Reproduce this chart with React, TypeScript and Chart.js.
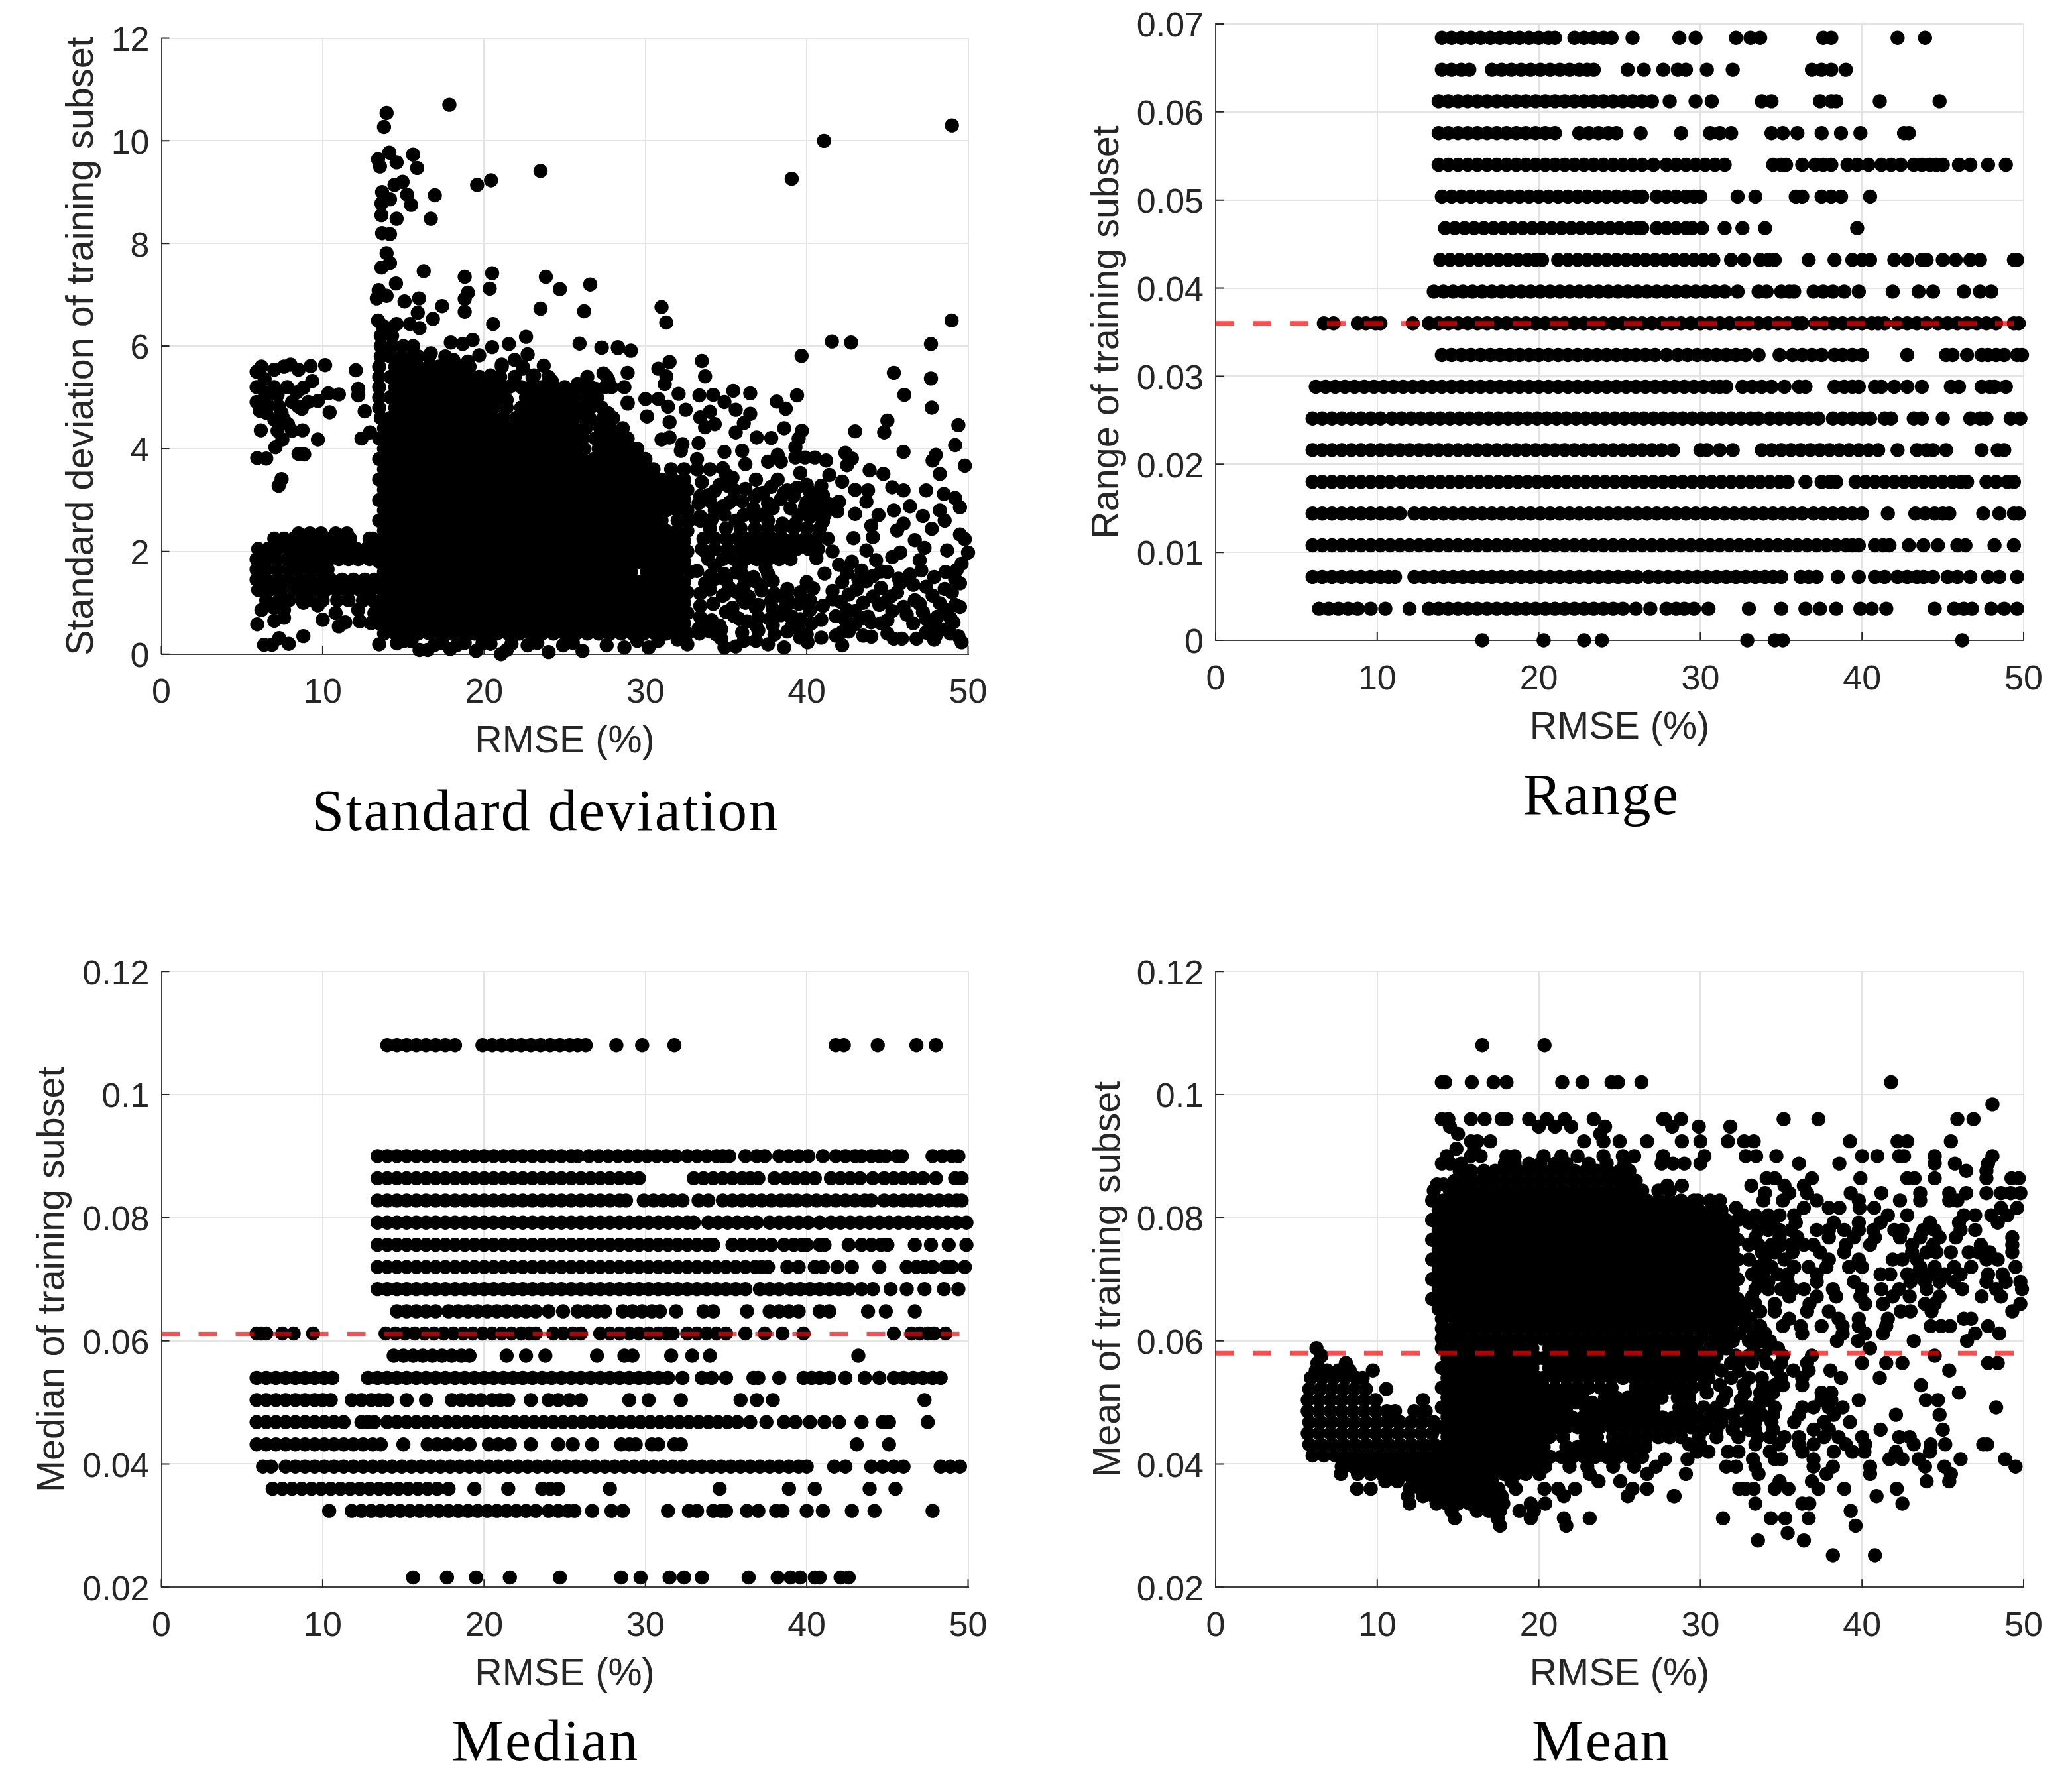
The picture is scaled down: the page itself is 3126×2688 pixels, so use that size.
import React, { useEffect, useRef } from "react";
import { Chart, registerables } from "chart.js";

Chart.register(...registerables);

type Row = [number, number[]];

const rmseTicks = [0, 10, 20, 30, 40, 50];
const stdTicks = [0, 2, 4, 6, 8, 10, 12];
const rangeTicks = [0, 0.01, 0.02, 0.03, 0.04, 0.05, 0.06, 0.07];
const centerTicks = [0.02, 0.04, 0.06, 0.08, 0.1, 0.12];

// ---------- Range panel: each row is one discrete level with the RMSE values read along it
const rangeRows: Row[] = [
  [0, [16.5, 20.3, 22.8, 23.9, 32.9, 34.6, 35.1, 46.2]],
  [0.0036, [6.4, 7, 7.6, 8.2, 8.8, 9.6, 10.5, 12, 13.2, 13.8, 14.4, 15, 15.6, 16.2, 16.8, 17.4, 18, 18.6, 19.2, 19.8, 20.4, 21, 21.6, 22.2, 22.8, 23.4, 24, 24.6, 25.2, 26, 26.9, 27.9, 28.5, 29, 29.6, 30.5, 33, 35, 36.5, 37.4, 38.4, 39.9, 40.6, 41.5, 44.5, 45.7, 46.3, 46.8, 48, 48.8, 49.6]],
  [0.0072, [6, 6.6, 7.2, 7.8, 8.4, 9, 9.6, 10.2, 10.7, 11.1, 12.3, 12.9, 13.5, 14.1, 14.7, 15.3, 15.9, 16.5, 17.1, 17.7, 18.3, 18.9, 19.5, 20.1, 20.7, 21.3, 21.9, 22.5, 23.1, 23.7, 24.3, 24.9, 25.5, 26.1, 26.8, 27.4, 28, 28.6, 29.2, 29.8, 30.4, 31, 31.6, 32.2, 32.8, 33.4, 34, 34.5, 35, 36.2, 36.7, 37.2, 38.5, 39.8, 40.8, 41.4, 42.2, 42.8, 43.4, 43.8, 44.4, 45.3, 45.9, 46.7, 47.8, 48.5, 49.6]],
  [0.0108, [6, 6.6, 7.2, 7.8, 8.4, 9, 9.6, 10.2, 10.8, 11.4, 12, 12.6, 13.2, 13.8, 14.4, 15, 15.6, 16.2, 16.8, 17.4, 18, 18.6, 19.2, 19.8, 20.4, 21, 21.6, 22.2, 22.8, 23.4, 24, 24.6, 25.2, 25.8, 26.4, 27, 27.6, 28.2, 28.8, 29.4, 30, 30.6, 31.2, 31.8, 32.4, 33, 33.6, 34.2, 34.8, 35.4, 36, 36.6, 37.2, 37.8, 38.4, 39, 39.4, 39.8, 40.8, 41.3, 41.7, 42.9, 43.8, 44.7, 45.9, 46.4, 48.2, 49.4]],
  [0.0144, [6, 6.6, 7.2, 7.8, 8.4, 9, 9.6, 10.2, 10.8, 11.4, 12.3, 12.9, 13.5, 14.1, 14.7, 15.3, 15.9, 16.5, 17.1, 17.7, 18.3, 18.9, 19.5, 20.1, 20.7, 21.3, 21.9, 22.5, 23.1, 23.7, 24.3, 24.9, 25.5, 26.1, 26.7, 27.3, 27.9, 28.5, 29.1, 29.7, 30.3, 30.9, 31.5, 32.1, 32.7, 33.3, 33.9, 34.5, 35.1, 35.7, 36.3, 37, 37.6, 38.2, 38.8, 39.4, 40, 41.6, 43.3, 43.9, 44.5, 45, 45.4, 47.5, 48.5, 49.4, 49.7]],
  [0.018, [6, 6.6, 7.2, 7.8, 8.4, 9, 9.6, 10.2, 10.8, 11.5, 12.1, 12.7, 13.3, 13.9, 14.5, 15.1, 15.7, 16.3, 16.9, 17.5, 18.1, 18.7, 19.3, 19.9, 20.5, 21.1, 21.7, 22.3, 22.9, 23.5, 24.1, 24.7, 25.3, 25.9, 26.5, 27.1, 27.7, 28.3, 28.9, 29.5, 30.1, 30.7, 31.3, 31.9, 32.5, 33.1, 33.7, 34.3, 34.9, 35.4, 36.5, 37.5, 38, 38.4, 39.6, 40.2, 40.8, 41.4, 42, 42.6, 43.2, 43.8, 44.4, 45, 45.6, 46.1, 46.5, 47.7, 48.3, 49, 49.4]],
  [0.0216, [6, 6.6, 7.2, 7.8, 8.4, 9, 9.6, 10.2, 10.8, 11.4, 12, 12.6, 13.2, 13.8, 14.4, 15, 15.6, 16.2, 16.8, 17.4, 18, 18.6, 19.2, 19.8, 20.4, 21, 21.6, 22.2, 22.8, 23.4, 24, 24.6, 25.2, 25.8, 26.4, 27, 27.6, 28.3, 30, 30.4, 31.2, 32, 33.8, 34.4, 35, 35.6, 36.2, 36.8, 37.4, 38, 38.6, 39.2, 39.8, 40.4, 41, 42.2, 43.4, 44, 44.4, 45.2, 47.4, 48.4, 48.8]],
  [0.0252, [6, 6.6, 7.2, 7.8, 8.4, 9, 9.6, 10.2, 10.9, 11.5, 12.1, 12.7, 13.3, 13.9, 14.5, 15.1, 15.7, 16.3, 16.9, 17.5, 18.1, 18.7, 19.3, 19.9, 20.5, 21.1, 21.7, 22.3, 22.9, 23.5, 24.1, 24.7, 25.3, 25.9, 26.5, 27.1, 27.7, 28.3, 28.9, 29.5, 30.1, 30.7, 31.3, 31.9, 32.5, 33.1, 33.6, 34.3, 34.9, 35.5, 36.1, 36.7, 37.3, 38.2, 38.8, 39.4, 40, 40.5, 41.4, 41.8, 43.2, 43.7, 45, 46.7, 47.3, 47.7, 49.2, 49.8]],
  [0.0288, [6.2, 6.8, 7.4, 8, 8.6, 9.2, 9.8, 10.4, 11, 11.6, 12.2, 12.8, 13.4, 14, 14.6, 15.2, 15.8, 16.4, 17, 17.6, 18.2, 18.8, 19.4, 20, 20.6, 21.2, 21.8, 22.4, 23, 23.6, 24.2, 24.8, 25.4, 26, 26.6, 27.2, 27.8, 28.4, 29, 29.6, 30.2, 30.8, 31.2, 31.6, 32.6, 33.2, 33.8, 34.4, 35.2, 36.1, 36.5, 38.3, 38.9, 39.4, 39.8, 40.8, 41.2, 42, 42.8, 43.7, 45.5, 46, 47.4, 47.9, 48.2, 48.9]],
  [0.0324, [14, 14.6, 15.2, 15.8, 16.4, 17, 17.6, 18.2, 18.8, 19.4, 20, 20.6, 21.2, 21.8, 22.4, 23, 23.6, 24.2, 24.8, 25.4, 26, 26.6, 27.2, 27.9, 28.6, 29.2, 29.8, 30.4, 31, 31.6, 32.2, 32.8, 33.6, 34.9, 35.7, 36.3, 36.9, 37.5, 38.3, 38.8, 39.4, 40, 42.8, 45.2, 45.6, 46.5, 47.4, 47.8, 48.3, 48.8, 49.6, 49.9]],
  [0.036, [6.7, 7.3, 8.8, 9.3, 9.9, 10.2, 12.2, 13.2, 13.8, 14.4, 15, 15.6, 16.2, 16.8, 17.4, 18, 18.6, 19.2, 19.8, 20.4, 21, 21.6, 22.2, 22.8, 23.4, 24, 24.6, 25.2, 25.8, 26.4, 27, 27.6, 28.2, 28.8, 29.4, 30, 30.6, 31.2, 31.8, 32.4, 33, 33.6, 34.2, 34.8, 35.4, 36, 36.3, 37.1, 37.7, 38.2, 38.8, 39.4, 40, 40.6, 41, 41.4, 42.2, 42.8, 43.4, 44, 44.7, 45.3, 45.9, 46.5, 47.1, 47.7, 48.3, 49.4, 49.7]],
  [0.0396, [13.5, 14.1, 14.7, 15.3, 15.9, 16.5, 17.1, 17.7, 18.3, 18.9, 19.5, 20.1, 20.7, 21.3, 21.9, 22.5, 23.1, 23.7, 24.3, 24.9, 25.5, 26.1, 26.7, 27.3, 27.9, 28.5, 29.1, 29.7, 30.3, 30.9, 31.5, 32.3, 33.6, 34.1, 35, 35.5, 35.8, 37, 37.6, 38.2, 38.9, 39.8, 41.9, 43.5, 44.4, 46.3, 47.3, 48]],
  [0.0432, [13.9, 14.5, 15.1, 15.7, 16.3, 16.9, 17.5, 18.1, 18.7, 19.3, 19.8, 20.2, 21.2, 21.8, 22.4, 23, 23.6, 24.2, 24.8, 25.4, 26, 26.6, 27.2, 27.8, 28.4, 29, 29.6, 30.2, 30.8, 31.9, 32.7, 33.7, 34.2, 34.6, 36.7, 38.3, 39.4, 40, 40.5, 42, 42.8, 43.7, 44, 45, 45.8, 46.7, 47.3, 49.4, 49.6]],
  [0.0468, [14.2, 14.8, 15.4, 16, 16.6, 17.2, 17.8, 18.4, 19, 19.6, 20.2, 20.8, 21.4, 22, 22.6, 23.2, 23.8, 24.4, 25, 25.6, 26.1, 26.4, 27.3, 27.9, 28.5, 29.1, 29.5, 30.1, 31.5, 32.6, 34, 39.7]],
  [0.0504, [14, 14.6, 15.2, 15.8, 16.4, 17, 17.6, 18.2, 18.8, 19.4, 20, 20.6, 21.2, 21.8, 22.4, 23, 23.6, 24.2, 24.8, 25.4, 26, 26.4, 27.3, 27.9, 28.5, 29.1, 29.6, 30, 32.3, 33.4, 35.9, 36.3, 37.5, 38.1, 38.7, 40.5]],
  [0.054, [13.8, 14.4, 15, 15.6, 16.2, 16.8, 17.4, 18, 18.6, 19.2, 19.8, 20.4, 21, 21.6, 22.2, 22.8, 23.4, 24, 24.6, 25.2, 25.8, 26.4, 27.1, 27.9, 28.5, 29.1, 29.7, 30.3, 30.9, 31.5, 34.5, 35, 35.3, 36.3, 37.1, 37.6, 38.1, 39.1, 39.7, 40.4, 41.2, 41.8, 42.4, 43.2, 43.7, 44.2, 44.6, 45, 46, 46.7, 47.8, 48.9]],
  [0.0576, [13.8, 14.4, 15, 15.6, 16.2, 16.8, 17.4, 18, 18.6, 19.2, 19.8, 20.4, 21, 22.5, 23.1, 23.7, 24.3, 24.8, 26.3, 28.8, 30.6, 31.2, 31.9, 34.4, 35.1, 36, 37.5, 38.7, 39.9, 42.6, 42.9]],
  [0.0612, [13.8, 14.4, 15, 15.6, 16.2, 16.8, 17.4, 18, 18.6, 19.2, 19.8, 20.4, 21, 21.6, 22.2, 22.8, 23.4, 24, 24.6, 25.2, 25.8, 26.4, 27, 28.1, 29.7, 30.7, 33.8, 34.4, 37.4, 38.1, 38.4, 41.1, 44.8]],
  [0.0648, [14, 14.6, 15.2, 15.7, 17.1, 17.7, 18.3, 18.9, 19.5, 20.1, 20.7, 21.3, 21.9, 22.5, 23, 23.4, 25.5, 26.5, 27.7, 28.6, 29.1, 30.4, 32, 36.9, 37.5, 38.1, 39]],
  [0.0684, [14, 14.6, 15.2, 15.8, 16.4, 17, 17.6, 18.2, 18.8, 19.4, 20, 20.6, 21, 22.2, 22.8, 23.4, 24, 24.5, 25.8, 28.7, 29.7, 32.2, 33.1, 33.7, 37.6, 38.1, 42.2, 43.9]],
];

// ---------- Median panel
const medianRows: Row[] = [
  [0.0216, [15.6, 17.7, 19.5, 21.6, 24.7, 28.5, 29.7, 31.5, 32.4, 33.5, 36.4, 38.2, 39, 39.6, 40.5, 40.8, 42.1, 42.6]],
  [0.0324, [10.4, 11.8, 12.4, 13, 13.6, 14.2, 14.8, 15.4, 16, 16.6, 17.2, 17.8, 18.4, 19, 19.6, 20.2, 20.8, 21.4, 22, 22.6, 23.2, 24, 24.6, 25.2, 25.6, 26.7, 27.9, 28.6, 31.4, 32.7, 33.2, 34.2, 34.7, 35, 36.3, 37, 38.1, 38.5, 40, 41, 42.8, 44.2, 47.8]],
  [0.036, [6.9, 7.5, 8.1, 8.7, 9.3, 9.9, 10.5, 11.1, 11.7, 12.3, 12.9, 13.5, 14.1, 14.7, 15.3, 15.9, 16.5, 17.1, 17.8, 19.4, 21.5, 23.6, 24.1, 24.6, 27.8, 34.6, 38.9, 40.5, 43.9, 45.5]],
  [0.0396, [6.3, 6.8, 7.7, 8.3, 8.9, 9.5, 10.1, 10.7, 11.3, 11.9, 12.5, 13.1, 13.7, 14.3, 14.9, 15.5, 16.1, 16.7, 17.3, 17.9, 18.5, 19.1, 19.7, 20.3, 20.9, 21.5, 22.1, 22.7, 23.3, 23.9, 24.5, 25.1, 25.7, 26.3, 26.9, 27.5, 28.1, 28.7, 29.3, 29.9, 30.5, 31.1, 31.7, 32.3, 32.9, 33.5, 34.1, 34.7, 35.3, 35.9, 36.5, 37.1, 37.7, 38.3, 38.9, 39.5, 40, 41.7, 42.4, 44, 44.7, 45.4, 46, 48.3, 48.9, 49.5]],
  [0.0432, [5.9, 6.5, 7.1, 7.7, 8.3, 8.9, 9.5, 10.1, 10.7, 11.3, 11.9, 12.5, 13.1, 13.6, 15, 16.5, 17.1, 17.7, 18.4, 19.1, 20.3, 20.9, 21.6, 22.9, 24.6, 25.5, 26.7, 28.5, 29, 29.4, 30.4, 30.8, 31.8, 32.2, 43.1, 45.1]],
  [0.0468, [5.9, 6.5, 7.1, 7.7, 8.3, 8.9, 9.5, 10.1, 10.7, 11.3, 12.4, 12.8, 13.2, 14, 14.6, 15.2, 15.8, 16.4, 17, 17.7, 18.3, 18.9, 19.5, 20.1, 20.7, 21.3, 21.9, 22.5, 23.1, 23.7, 24.3, 24.9, 25.5, 26.1, 26.7, 27.3, 27.9, 28.5, 29.1, 29.7, 30.3, 30.9, 31.5, 32.1, 32.7, 33.3, 33.9, 34.5, 35.1, 35.7, 36.5, 37.5, 38.6, 39.3, 40.2, 41.1, 42, 43.4, 44.7, 45.1, 47.5]],
  [0.0504, [5.9, 6.5, 7.1, 7.7, 8.3, 8.9, 9.5, 10, 10.5, 11.8, 12.4, 13, 13.5, 14, 15.2, 16.4, 18, 18.6, 19.2, 19.8, 20.5, 21, 21.5, 22.9, 24, 24.6, 25.3, 26, 29, 30.2, 32.2, 35.9, 36.9, 37.9, 47.3]],
  [0.054, [5.9, 6.5, 7.1, 7.7, 8.3, 8.9, 9.5, 10.1, 10.6, 12.8, 13.4, 14, 14.6, 15.2, 15.8, 16.4, 17, 17.6, 18.2, 18.8, 19.4, 20, 20.6, 21.2, 21.8, 22.4, 23, 23.6, 24.2, 24.8, 25.4, 26, 26.6, 27.2, 27.8, 28.4, 29, 29.6, 30.2, 30.8, 31.4, 32.3, 33.5, 34.1, 35, 36.7, 37, 38.3, 39.8, 40.3, 40.8, 41.4, 42.4, 43.6, 44.5, 45.4, 46, 46.6, 47.2, 47.8, 48.3]],
  [0.0576, [14.4, 15, 15.6, 16.2, 16.8, 17.4, 18, 18.6, 19.1, 21.4, 22.6, 23.8, 27, 28.7, 29.2, 31.6, 32.9, 34, 43.2]],
  [0.0612, [5.9, 6.2, 6.5, 7.5, 8.2, 9.4, 13.9, 14.5, 15.1, 15.7, 16.3, 16.9, 17.5, 18.1, 18.7, 19.3, 19.9, 20.5, 21.1, 21.7, 22.3, 22.8, 23.2, 24.3, 24.9, 25.5, 26, 27.2, 27.8, 28.4, 29, 29.6, 30.2, 30.8, 31.3, 31.7, 32.6, 33.2, 33.8, 34.4, 35, 36.2, 37.4, 38.5, 39.8, 45.4, 46.5, 47, 47.5, 47.9, 48.6]],
  [0.0648, [14.6, 15.2, 15.8, 16.4, 17, 17.8, 18.4, 19, 19.6, 20.2, 20.8, 21.4, 22, 22.6, 23.2, 24, 24.9, 25.8, 26.4, 27, 27.5, 28.6, 29.2, 29.8, 30.4, 30.9, 31.9, 33.6, 34.2, 36.3, 37.7, 38.3, 38.9, 39.5, 40.8, 41.4, 43.8, 44.9, 46.7]],
  [0.0684, [13.4, 14, 14.6, 15.2, 15.8, 16.4, 17, 17.6, 18.2, 18.8, 19.4, 20, 20.6, 21.2, 21.8, 22.4, 23, 23.6, 24.2, 24.8, 25.4, 26, 26.6, 27.2, 27.8, 28.4, 29, 29.6, 30.2, 30.8, 31.4, 32, 32.6, 33.2, 33.8, 34.4, 35, 35.6, 36.2, 37.1, 37.7, 38.3, 39, 39.6, 40.2, 40.8, 41.4, 42, 42.6, 43.4, 44.1, 45.2, 46.2, 47.3, 48.5, 49.4]],
  [0.072, [13.4, 14, 14.6, 15.2, 15.8, 16.4, 17, 17.6, 18.2, 18.8, 19.4, 20, 20.6, 21.2, 21.8, 22.4, 23, 23.6, 24.2, 24.8, 25.4, 26, 26.6, 27.2, 27.8, 28.4, 29, 29.6, 30.2, 30.8, 31.4, 32, 32.6, 33.2, 33.8, 34.4, 35, 35.6, 36.2, 36.8, 37.2, 37.6, 38.8, 39.5, 40.5, 41, 41.9, 42.8, 44.5, 46.2, 46.8, 47.3, 47.8, 48.6, 49, 49.8]],
  [0.0756, [13.4, 14, 14.6, 15.2, 15.8, 16.4, 17, 17.6, 18.2, 18.8, 19.4, 20, 20.6, 21.2, 21.8, 22.4, 23, 23.6, 24.2, 24.8, 25.4, 26, 26.6, 27.2, 27.8, 28.4, 29, 29.6, 30.2, 30.8, 31.4, 32, 32.6, 33.2, 33.8, 34.2, 35.4, 36, 36.6, 37.2, 37.8, 38.6, 39.2, 39.7, 40, 40.8, 41.1, 42.6, 43.4, 44, 44.6, 45, 46.7, 47.7, 48.8, 49.9]],
  [0.0792, [13.4, 14, 14.6, 15.2, 15.8, 16.4, 17, 17.6, 18.2, 18.8, 19.4, 20, 20.6, 21.2, 21.8, 22.4, 23, 23.6, 24.2, 24.8, 25.4, 26, 26.6, 27.2, 27.8, 28.4, 29, 29.6, 30.2, 30.8, 31.4, 32, 32.6, 33, 33.9, 34.5, 35.1, 35.7, 36.3, 36.9, 37.7, 38.3, 38.9, 39.5, 40.1, 40.8, 41.5, 42.1, 42.7, 43.3, 43.9, 44.5, 45.1, 45.7, 46.3, 46.9, 47.5, 48.1, 48.7, 49.3, 49.9]],
  [0.0828, [13.4, 14, 14.6, 15.2, 15.8, 16.4, 17, 17.6, 18.2, 18.8, 19.4, 20, 20.6, 21.2, 21.8, 22.4, 23, 23.6, 24.2, 24.8, 25.4, 26, 26.6, 27.2, 27.8, 28.4, 28.8, 29.9, 30.5, 31.1, 31.7, 32.3, 33.3, 33.9, 34.8, 35.4, 36, 36.6, 37.2, 37.8, 38.4, 38.9, 39.4, 40, 40.6, 41.2, 41.8, 42.4, 43, 43.6, 44, 44.8, 45.4, 46, 46.5, 47, 47.6, 48.2, 48.8, 49.3, 49.6]],
  [0.0864, [13.4, 14, 14.6, 15.2, 15.8, 16.4, 17, 17.6, 18.2, 18.8, 19.4, 20, 20.6, 21.2, 21.8, 22.4, 23, 23.6, 24.2, 24.8, 25.4, 26, 26.6, 27.2, 27.8, 28.4, 29, 29.6, 33, 33.6, 34.2, 34.8, 35.4, 36, 36.5, 37, 38, 38.7, 39.3, 39.9, 40.5, 41.5, 42.1, 42.7, 43.3, 44.1, 44.8, 45.4, 46, 46.6, 47.2, 48, 49.2, 49.6]],
  [0.09, [13.4, 14, 14.6, 15.2, 15.8, 16.4, 17, 17.6, 18.2, 18.8, 19.4, 20, 20.6, 21.2, 21.8, 22.4, 23, 23.6, 24.2, 24.8, 25.4, 25.8, 26.5, 27.1, 27.7, 28.3, 28.9, 29.5, 30.1, 30.7, 31.3, 31.9, 32.6, 33.2, 33.8, 34.4, 34.8, 35.2, 36.2, 36.9, 37.4, 38.3, 38.9, 39.5, 40.1, 41, 41.8, 42.4, 43, 43.4, 44, 44.5, 44.9, 45.6, 45.9, 47.8, 48.4, 49, 49.4]],
  [0.108, [14, 14.6, 15.2, 15.8, 16.4, 17, 17.6, 18.2, 19.9, 20.5, 21.1, 21.7, 22.3, 22.9, 23.5, 24.1, 24.7, 25.3, 25.8, 26.3, 28.2, 29.8, 31.8, 41.8, 42.3, 44.4, 46.8, 48]],
];

// ---------- Standard deviation panel
const stdCoreA = [13.5, 14.2, 14.9, 15.6, 16.3, 17, 17.7, 18.4, 19.1, 19.8, 20.5, 21.2, 21.9, 22.6, 23.3, 24, 24.7, 25.4, 26.1, 26.8, 27.5, 28.2, 28.9, 29.6, 30.3, 31, 31.7, 32.4];
const stdCoreB = [13.8, 14.5, 15.2, 15.9, 16.6, 17.3, 18, 18.7, 19.4, 20.1, 20.8, 21.5, 22.2, 22.9, 23.6, 24.3, 25, 25.7, 26.4, 27.1, 27.8, 28.5, 29.2, 29.9, 30.6, 31.3, 32, 32.6];

const stdRows: Row[] = [
  [0.4, stdCoreB], [0.6, stdCoreA], [0.8, stdCoreB], [1, stdCoreA], [1.2, stdCoreB],
  [1.4, stdCoreA],
  [1.6, [13.8, 14.5, 15.2, 15.9, 16.6, 17.3, 18, 18.7, 19.4, 20.1, 20.8, 21.5, 22.2, 22.9, 23.6, 24.3, 25, 25.7, 26.4, 27.1, 27.8, 28.5, 29.1, 30.1, 30.8, 31.3, 32, 32.8]],
  [1.8, stdCoreA], [2, stdCoreB], [2.2, stdCoreA], [2.4, stdCoreB],
  [2.6, [13.5, 14.2, 14.9, 15.6, 16.3, 17, 17.7, 18.4, 19.1, 19.8, 20.5, 21.2, 21.9, 22.6, 23.3, 24, 24.7, 25.4, 26.1, 26.8, 27.5, 28.2, 28.9, 29.6, 30.3, 31, 32, 32.7, 33.4]],
  [2.8, stdCoreB], [3, stdCoreA], [3.2, stdCoreB], [3.4, stdCoreA],
  [3.6, [13.8, 14.5, 15.2, 15.9, 16.6, 17.3, 18, 18.7, 19.4, 20.1, 20.8, 21.5, 22.2, 22.9, 23.6, 24.3, 25, 25.7, 26.4, 27.1, 27.8, 28.5, 29.2, 29.9, 30.5, 31.6, 32.4, 33.2]],
  [3.8, [13.5, 14.2, 14.9, 15.6, 16.3, 17, 17.7, 18.4, 19.1, 19.8, 20.5, 21.2, 21.9, 22.6, 23.3, 24, 24.7, 25.4, 26.1, 26.8, 27.5, 28.2, 28.9, 29.6, 30]],
  [4, [13.8, 14.5, 15.2, 15.9, 16.6, 17.3, 18, 18.7, 19.4, 20.1, 20.8, 21.5, 22.2, 22.9, 23.6, 24.3, 25, 25.7, 26.2, 27.1, 27.8, 28.5, 29.2, 29.5]],
  [4.2, [13.5, 14.2, 14.9, 15.6, 16.3, 17, 17.7, 18.4, 19.1, 19.8, 20.5, 21.2, 21.9, 22.6, 23.3, 24, 24.7, 25.4, 26.1, 26.9, 27.5, 28.2, 28.9]],
  [4.4, [13.8, 14.5, 15.2, 15.9, 16.6, 17.3, 18, 18.7, 19.4, 20.1, 20.8, 21.5, 22.2, 22.9, 23.6, 24.3, 25, 25.6, 26.3, 27.2, 27.8, 28.6]],
  [4.6, [13.6, 14.2, 14.9, 15.6, 16.3, 17, 17.7, 18.4, 19.1, 19.8, 20.5, 21.2, 22, 22.7, 23.4, 24.1, 24.8, 25.5, 26.2, 27.4, 28]],
  [4.8, [13.5, 14.5, 15.2, 15.9, 16.6, 17.3, 18, 18.7, 19.4, 20.1, 20.6, 21.4, 22.3, 23, 23.7, 24.4, 25.1, 25.9, 26.6, 27.3]],
  [5, [13.5, 14.2, 14.9, 15.6, 16.3, 17, 17.7, 18.4, 19.1, 19.8, 20.3, 21, 22.6, 23.3, 24, 24.7, 25.5, 26.3, 27]],
  [5.2, [13.5, 14.5, 15.2, 15.9, 16.6, 17.3, 18, 18.7, 19.4, 19.9, 20.6, 21.2, 22.9, 23.6, 24.3, 25, 25.9, 26.6, 27.5]],
  [5.4, [13.5, 14.2, 14.9, 15.6, 16.3, 17, 17.7, 18.4, 19, 19.7, 20.4, 21, 21.9, 23, 24, 26.4, 27.6]],
  [5.6, [13.5, 14.5, 15.2, 15.9, 16.6, 17.2, 17.9, 18.5, 19.1, 21.1, 22.4]],
  [5.8, [13.6, 14.2, 14.9, 15.6, 15.9, 16.6, 17.6]],
  [6, [13.6, 14.3, 15, 15.6]],
  [6.2, [13.6, 14.3]],
  // lower-left band
  [2.35, [8.5, 9.2, 9.9, 10.8, 11.5]],
  [2.25, [7, 7.6, 8.2, 8.9, 9.6, 10.3, 11, 11.7, 12.9, 13.1]],
  [2.05, [6, 6.6, 7.2, 7.9, 8.6, 9.3, 10, 10.7, 11.4, 12.1, 12.7, 13.2]],
  [1.85, [5.9, 6.5, 7.1, 7.8, 8.4, 9, 9.7, 10.4, 11, 11.6, 12.2, 12.9]],
  [1.65, [5.9, 6.5, 7.2, 7.9, 8.5, 9.2, 9.8, 10.3]],
  [1.45, [5.9, 6.5, 7.2, 7.8, 8.5, 9.1, 9.8, 10.5, 11.2, 11.9, 12.6, 13.2]],
  [1.25, [6, 6.7, 7.4, 8.2, 8.8, 9.5, 10.2, 10.9, 11.6, 12.3, 13]],
  [1.05, [6.5, 7.3, 7.9, 8.7, 9.2, 10, 10.9, 11.6, 12.5, 13.1]],
];

const stdScatter = [
  [17.85, 10.7], [13.96, 10.54], [13.8, 10.27], [49, 10.3], [41.07, 10], [23.5, 9.41], [39.07, 9.26], [20.43, 9.23], [19.57, 9.14], [13.43, 9.64], [13.55, 9.5], [14.13, 9.77], [14.58, 9.58], [15.6, 9.73], [15.85, 9.47],
  [14.95, 9.2], [14.45, 9.14], [13.68, 9], [15.23, 8.95], [15.48, 8.75], [16.95, 8.94], [13.64, 8.78], [14.17, 8.86], [13.64, 8.55], [14.58, 8.48], [16.7, 8.48], [13.68, 8.2], [14.17, 8.18], [13.96, 7.81], [14.17, 7.62], [13.64, 7.53],
  [16.26, 7.46], [20.5, 7.42], [18.8, 7.35], [23.83, 7.35], [26.58, 7.2], [14.54, 7.22], [13.47, 7.09], [20.35, 7.12], [24.7, 7.11], [19, 7.04], [18.8, 6.92], [15.97, 6.93], [13.35, 6.93], [13.96, 6.98], [15.07, 6.87], [17.4, 6.78],
  [31, 6.76], [31.29, 6.46], [23.5, 6.73], [26.2, 6.68], [15.89, 6.65], [18.8, 6.67], [16.83, 6.53], [48.98, 6.5], [13.43, 6.5], [14.58, 6.43], [20.56, 6.43], [16, 6.35], [13.7, 6.4], [14.2, 6.35], [15.4, 6.43], [22.6, 6.18],
  [41.56, 6.09], [42.75, 6.07], [25.92, 6.05], [17.94, 6.07], [18.67, 6.04], [19.29, 6.12], [47.7, 6.04], [20.5, 5.98], [21.54, 6.04], [27.27, 5.97], [28.3, 5.96], [29.1, 5.91], [39.68, 5.81],
  // left upper cluster
  [6.2, 5.6], [5.9, 5.5], [7, 5.54], [8, 5.64], [7.6, 5.6], [8.5, 5.54], [9.25, 5.61], [10.15, 5.63], [12.05, 5.53], [5.9, 5.2], [6.4, 5.36], [7.8, 5.2], [9.35, 5.32], [8.8, 5.19], [5.9, 4.91], [6.5, 5], [6.1, 4.74], [6.5, 4.7],
  [10.35, 5.08], [11, 5.06], [9.7, 4.93], [9.1, 4.91], [8.5, 4.82], [8.1, 4.91], [8.7, 4.78], [7.45, 4.7], [10.43, 4.71], [12.2, 5.17], [12.2, 5.04], [12.6, 4.73], [6.16, 4.36], [7.2, 4.35], [7.85, 4.48], [8.75, 4.36], [8.1, 4.35],
  [9.7, 4.18], [7.5, 4.18], [7.07, 4.03], [5.94, 3.82], [6.5, 3.81], [8.5, 3.9], [8.85, 3.89], [7.45, 3.41], [7.27, 3.28], [12.4, 4.2], [12.93, 4.32], [7.3, 4.82], [7.6, 4.57], [7, 4.57], [6.4, 5.1], [7, 5.2], [6.6, 4.85], [7.2, 5.05], [8.4, 5.1],
  // left lower fringe
  [6.2, 0.86], [5.94, 0.58], [7, 0.65], [7.6, 0.71], [7.6, 0.86], [10, 0.67], [11, 0.54], [11.4, 0.62], [10.8, 0.8], [12.3, 0.64], [12.2, 0.86], [6.36, 0.18], [6.85, 0.18], [7.3, 0.31], [7.9, 0.2], [8.8, 0.35], [8.8, 1], [7, 0.9], [9.7, 0.95],
  // bottom fringe
  [13.5, 0.19], [14.6, 0.21], [16, 0.08], [16.5, 0.08], [17.9, 0.1], [18.3, 0.17], [19.5, 0.06], [21.05, 0], [21.4, 0.08], [22.7, 0.17], [24, 0.04], [24.9, 0.17], [26.1, 0.06], [21.7, 0.2], [19.9, 0.21], [16.9, 0.17], [27.6, 0.17], [28.7, 0.13], [30.2, 0.13], [29.5, 0.26], [30.8, 0.26],
  [13.2, 0.8], [13, 0.6], [15, 0.25], [15.5, 0.25], [17.4, 0.22], [18.8, 0.22], [20.4, 0.2], [23.3, 0.22], [25.5, 0.22],
  // upper middle
  [16.7, 5.86], [18.1, 5.73], [19.7, 5.82], [22.7, 5.84], [23.7, 5.62], [21.9, 5.73], [21.1, 5.64], [20.4, 5.43], [24.2, 5.32], [25, 5.17], [25.8, 5.26], [26.9, 5.17], [27.7, 5.34], [27.4, 5.47], [24.5, 5], [25.4, 4.87], [26.6, 4.57], [26, 4.69],
  [27.7, 4.69], [23.6, 5.08], [21.4, 4.95], [22.4, 5.56], [23.1, 5.43], [21.6, 5.21], [22.8, 5.04], [27.9, 5.2], [28.9, 5.48], [28.9, 4.88], [28.7, 5.2], [26.66, 5.1], [25.8, 5.2], [24.8, 5], [19, 5.7], [20, 5.2], [22.3, 5.2], [26.3, 5],
  // right side
  [27.3, 5.97], [28.3, 5.98], [31.5, 5.69], [33.5, 5.71], [30.8, 5.56], [33.7, 5.41], [45.4, 5.48], [47.7, 5.37], [31.3, 5.41], [31.2, 5.26], [46.05, 5.05], [47.75, 4.8], [49.4, 4.46], [49.2, 4.07], [46, 3.94], [49.8, 3.67], [48, 3.88], [47.8, 3.77], [48.25, 3.51],
  [45, 4.55], [44.8, 4.32], [43, 4.34], [36.5, 5.08], [35.45, 5.13], [34.2, 5.05], [33.35, 5.04], [32.06, 5.07], [30, 4.97], [30.8, 4.97], [38.14, 4.92], [38.7, 4.78], [39.4, 5.04], [32.5, 4.76], [30.1, 4.63], [31.4, 4.82], [31.5, 4.52], [28.9, 4.9],
  [34, 4.72], [33.4, 4.61], [35.6, 4.76], [36.5, 4.68], [34.9, 4.91], [36.1, 4.5], [38.6, 4.4], [39.7, 4.35], [39.5, 4.2], [35.6, 4.32], [36.9, 4.22], [37.8, 4.21], [33.7, 4.42], [34.3, 4.48], [31, 4.18], [31.5, 4.22], [32.3, 4.09], [33.3, 4.11],
  [36, 3.96], [39.3, 4.03], [34.9, 3.94], [32.2, 3.96], [38.2, 3.88], [37.6, 3.75], [38.4, 3.75], [36.2, 3.7], [42.4, 3.92], [42.8, 3.81], [42.5, 3.68], [39.3, 3.83], [39.9, 3.83], [40.5, 3.83], [41.2, 3.77], [41.4, 3.49], [43.9, 3.58], [44.75, 3.51],
  [42.2, 3.36], [45.3, 3.25], [43.8, 3.19], [46, 3.19], [47.4, 3.19], [48.5, 3.12], [49.2, 3.04], [49.5, 2.86], [43, 3.2], [41, 3.1], [42, 2.97], [41.9, 2.78], [43, 2.73], [43.7, 2.97], [44.45, 2.71], [45.4, 2.8], [46.4, 2.88], [47.2, 2.69], [48.25, 2.8],
  [48.55, 2.6], [46, 2.54], [45.6, 2.41], [47.75, 2.44], [46.7, 2.22], [47.3, 2.07], [47, 1.83], [49.5, 2.33], [49.8, 2.24], [48.7, 2.02], [50, 1.98], [49.6, 1.76], [49.3, 1.64], [49.5, 1.38], [45.3, 1.89], [45.8, 1.98], [43.7, 2.02], [44.1, 2.28], [44, 2.5],
  [42.9, 2.26], [41.6, 2], [40.6, 1.87], [44.3, 1.83], [44.6, 1.61], [41.1, 1.57], [42, 1.74], [42.8, 1.8], [43.4, 1.63], [43.7, 1.42], [42.2, 1.4], [40, 1.4], [38.8, 1.27], [41.6, 1.23], [41.6, 1.07], [40.2, 1.05], [44.6, 1.29], [45.8, 1.38], [46.6, 1.35],
  [47.4, 1.31], [48.55, 1.27], [46.7, 1.05], [45.2, 1.12], [43.5, 1], [43.8, 0.73], [42.5, 0.86], [49.5, 0.92], [48.25, 0.99], [46.2, 0.77], [48.1, 0.73], [48.9, 0.71], [44.6, 0.6], [40.9, 0.67], [40.2, 0.88], [39.1, 0.73], [42.2, 0.43], [43.5, 0.36], [45.4, 0.3],
  [45.9, 0.3], [46.8, 0.3], [48, 0.36], [49.4, 0.35], [49.6, 0.23], [40.9, 0.32], [40, 0.38], [40.05, 0.23], [42.2, 0.17], [38.6, 0.13], [37.6, 0.19], [36.85, 0.26], [36.1, 0.26], [35.6, 0.15], [34.9, 0.13], [34.4, 0.38], [33.35, 0.4], [32.6, 0.19], [32, 0.28],
  [36.1, 2.71], [36.85, 3.4], [37.3, 3.14], [38.2, 3.4], [39.6, 3.53], [40, 3.3], [40.65, 3.1], [38.8, 3.19], [36.7, 2.84], [37.9, 2.84], [39, 2.84], [39.9, 2.88], [40.65, 2.84], [41.1, 2.71], [40.2, 2.67], [38.5, 2.54], [39.3, 2.54], [37.6, 2.6],
  [34, 2.45], [35, 2.45], [35.9, 2.45], [36.8, 2.45], [37.6, 2.45], [38.4, 2.45], [39.2, 2.45], [40, 2.45], [40.8, 2.45], [33.6, 2.25], [34.3, 2.25], [35, 2.25], [35.7, 2.25], [36.4, 2.25], [37.1, 2.25], [37.8, 2.25], [38.5, 2.25], [39.2, 2.25], [39.9, 2.25], [40.6, 2.25], [41.3, 2.25],
  [33.5, 2.05], [34.3, 2.05], [35.1, 2.05], [35.9, 2.05], [36.6, 2.05], [37.3, 2.05], [38, 2.05], [38.7, 2.05], [39.4, 2.05], [40.1, 2.05], [40.7, 2.05], [33.9, 1.85], [34.8, 1.85], [35.5, 1.85], [36.2, 1.85], [36.9, 1.85], [37.6, 1.85], [38.3, 1.85], [39, 1.85],
  [35.6, 1.59], [37.45, 1.68], [36.7, 1.5], [37.9, 1.42], [36.1, 1.33], [35.2, 1.29], [37.15, 1.33], [34.3, 1.46], [34.3, 1.72], [33.7, 1.38], [33.7, 2], [34.9, 1.16], [36, 1.1], [36.85, 0.9], [37.9, 0.88], [38.5, 1.12], [39, 0.73], [35.8, 0.69], [35, 0.82],
  [36.85, 0.56], [37.9, 0.56], [39.1, 0.56], [34.6, 0.56], [34.7, 0.3], [33.65, 0.6], [39.6, 0.32], [32.3, 1.7], [33.9, 3.1], [34.6, 3.3], [35.2, 2.95], [34.3, 2.8], [35, 3.5], [34, 3.6], [33.5, 3.35], [35.5, 3.2], [33.2, 3.8],
  // extra right-hand dots
  [34.8, 3.62], [35.4, 3.44], [33.4, 3.08], [34.3, 3.18], [35.1, 3.28], [36.2, 3.22], [37, 3.12], [37.8, 3.26], [38.6, 3.14], [39.4, 3.24], [40.2, 3.16], [40.9, 3.28], [33.3, 2.94], [34, 2.98], [34.8, 2.88], [35.5, 3.04], [36, 2.98], [36.8, 3.06], [37.6, 2.94], [38.4, 3.02], [39.2, 3.08], [40, 2.96], [40.8, 3.02], [41.4, 2.92],
  [33.4, 2.68], [34.1, 2.62], [34.9, 2.72], [35.6, 2.6], [36.8, 2.66], [37.5, 2.76], [39.5, 2.7], [40.4, 2.76], [41, 2.58], [33.2, 1.62], [34.9, 1.56], [35.9, 1.7], [34, 1.52], [35, 1.44], [36, 1.55], [36.8, 1.42], [37.6, 1.56], [42.5, 1.58], [43.2, 1.46], [44.1, 1.52], [45, 1.6], [45.7, 1.47], [46.4, 1.55], [47.1, 1.63], [47.9, 1.5], [48.6, 1.6], [49.2, 1.46],
  [33.4, 1.18], [34, 1.26], [34.8, 1.14], [35.6, 1.22], [36.4, 1.12], [37.2, 1.24], [38, 1.18], [38.8, 1.08], [39.6, 1.2], [40.4, 1.28], [42.6, 1.16], [43.1, 1.26], [44.1, 1.12], [44.9, 1.02], [45.6, 1.2], [47, 0.98], [47.8, 1.14], [49, 1.2],
  [33.4, 0.94], [34.2, 0.98], [35.4, 0.9], [36.2, 1], [37, 0.96], [37.8, 1.04], [38.7, 0.92], [39.5, 0.98], [40.2, 0.86], [41, 0.94], [42.1, 1.02], [43, 0.84], [44.5, 0.96], [45.3, 0.84], [46, 0.92], [47.2, 0.82], [48.7, 0.86], [49.2, 0.96],
  [33.4, 0.72], [34.1, 0.66], [35.5, 0.74], [36.3, 0.64], [37, 0.72], [37.7, 0.68], [38.4, 0.76], [39.6, 0.68], [40.3, 0.6], [41.8, 0.74], [42.4, 0.66], [43, 0.58], [43.5, 0.7], [44, 0.62], [45, 0.66], [46.6, 0.6], [47.4, 0.68], [48, 0.56], [48.5, 0.48], [49.1, 0.62],
  [33.3, 0.5], [34, 0.44], [34.7, 0.48], [36, 0.42], [37, 0.46], [38, 0.38], [38.8, 0.44], [39.5, 0.5], [41.8, 0.36], [42.6, 0.44], [44, 0.34], [45, 0.4], [47.4, 0.42], [47.9, 0.28], [48.9, 0.4],
];

// ---------- Mean panel
const meanCoreA = [13.4, 14.1, 14.8, 15.5, 16.2, 16.9, 17.6, 18.3, 19, 19.7, 20.4, 21.1, 21.8, 22.5, 23.2, 23.9, 24.6, 25.3, 26, 26.7, 27.4, 28.1, 28.8, 29.5, 30.2, 30.9, 31.6, 32.3];
const meanCoreB = [13.8, 14.5, 15.2, 15.9, 16.6, 17.3, 18, 18.7, 19.4, 20.1, 20.8, 21.5, 22.2, 22.9, 23.6, 24.3, 25, 25.7, 26.4, 27.1, 27.8, 28.5, 29.2, 29.9, 30.6, 31.3, 32];
const meanLowA = [14, 14.7, 15.4, 16.1, 16.8, 17.5, 18.2, 18.9, 19.6];
const meanLowB = [14.35, 15.05, 15.75, 16.45, 17.15, 17.85, 18.55, 19.25, 19.95];
const meanMidA = [20.3, 21, 21.7, 22.4, 23.1, 23.8, 24.5, 25.2, 25.9, 26.6, 27.3, 28, 28.7, 29.4, 30.2];
const meanMidB = [20.65, 21.35, 22.05, 22.75, 23.45, 24.15, 24.85, 25.55, 26.25, 26.95, 27.65, 28.35, 29.05, 29.75, 30.6];

const meanRows: Row[] = [
  [0.0604, [14, 14.6, 15.3, 16, 16.7, 17.4, 18.1, 18.8, 19.5, 20.2, 20.9, 21.6, 22.3, 23, 23.7, 24.4, 25.1, 25.8, 26.5, 27.2, 27.9, 28.6, 29.3, 30.1, 30.9]],
  [0.062, [14, 14.6, 15.2, 15.9, 16.6, 17.3, 18, 18.7, 19.4, 20.1, 20.8, 21.5, 22.2, 22.9, 23.6, 24.3, 25, 25.7, 26.4, 27.1, 27.8, 28.5, 29.2, 29.9, 30.6, 31.2]],
  [0.0636, [14, 14.8, 15.5, 16.2, 16.9, 17.6, 18.3, 19, 19.7, 20.4, 21.1, 21.8, 22.5, 23.2, 23.9, 24.6, 25.3, 26, 26.7, 27.4, 28.1, 28.8, 29.5, 30.2, 30.9, 31.6]],
  [0.0652, [13.8, 14.5, 15.2, 15.9, 16.6, 17.3, 18, 18.7, 19.4, 20.1, 20.8, 21.5, 22.2, 22.9, 23.6, 24.3, 25, 25.7, 26.4, 27.1, 27.8, 28.5, 29.2, 29.9, 30.6, 31.3, 32]],
  [0.0668, meanCoreA], [0.0684, meanCoreB], [0.07, meanCoreA], [0.0716, meanCoreB], [0.0732, meanCoreA], [0.0748, meanCoreB], [0.0764, meanCoreA], [0.078, meanCoreB], [0.0796, meanCoreA],
  [0.0812, [13.8, 14.5, 15.2, 15.9, 16.6, 17.3, 18, 18.7, 19.4, 20.1, 20.8, 21.5, 22.2, 22.9, 23.6, 24.3, 25, 25.7, 26.4, 27.1, 27.8, 28.5, 29.2, 29.9, 30.6, 31.3]],
  [0.0828, [13.4, 14.1, 14.8, 15.5, 16.2, 16.9, 17.6, 18.3, 19, 19.7, 20.4, 21.1, 21.8, 22.5, 23.2, 23.9, 24.6, 25.3, 26, 26.7, 27.4, 28.1, 28.8, 29.6, 30.6]],
  [0.0844, [13.5, 14.5, 15.2, 15.9, 16.6, 17.3, 18, 18.7, 19.4, 20.1, 20.8, 21.5, 22.2, 22.9, 23.6, 24.3, 25, 25.7, 26.4, 27.4, 28.1]],
  [0.0854, [13.7, 14.1]],
  [0.086, [14.8, 15.4, 16, 16.6, 17.2, 17.9, 18.6, 19.3, 20, 20.7, 21.4, 22.1, 22.8, 23.5, 24.2, 24.9, 25.5, 26]],
  [0.0876, [15.1, 15.8, 16.6, 17.3, 18, 18.7, 19.4, 20.1, 20.8, 21.5, 22.2, 22.9, 23.6, 24.3, 25, 25.6]],
  [0.0888, [14, 14.5, 15.2, 17.9, 18.5, 19.4, 20.1, 21, 21.7, 23.1, 24.2, 25.3]],
  [0.09, [14.3, 15.8, 16.4, 18, 18.5, 20.3, 21.4, 22.4, 24, 25.2, 25.9]],
  [0.0912, [14.9, 16]],
  [0.0924, [15.8, 16.2, 17, 22.8, 24, 25, 26.7]],
  [0.0936, [15, 23.8]],
  [0.0948, [14.5, 20, 21, 22, 24.1]],
  [0.096, [14, 14.4, 15.8, 16.65, 17.7, 18, 19.4, 20.5, 21.6, 23.4, 27.7]],
  [0.102, [14, 14.2, 15.85, 17.2, 18, 21.45, 22.7, 24.5, 24.9, 26.35]],
  [0.108, [16.5, 20.35]],
  // lower-left cloud
  [0.0588, [6.24]], [0.0576, [6.55]], [0.0564, [6.3, 8.06]],
  [0.0552, [6.2, 6.9, 7.6, 8.3, 9.73]],
  [0.054, [5.9, 6.6, 7.3, 8, 8.7, 9.1]],
  [0.0522, [5.8, 6.5, 7.2, 7.9, 8.6, 9.3, 10.56]],
  [0.0504, [5.7, 6.4, 7.1, 7.8, 8.5, 9.2, 9.9, 12.84]],
  [0.0486, [5.7, 6.4, 7.1, 7.8, 8.5, 9.2, 9.9, 10.6, 11.1, 12.3, 13]],
  [0.0468, [5.8, 6.5, 7.2, 7.9, 8.6, 9.3, 10, 10.7, 11.4, 12.1, 12.8, 13.5]],
  [0.045, [5.7, 6.4, 7.1, 7.8, 8.5, 9.2, 9.9, 10.6, 11.3, 12, 12.7, 13.4]],
  [0.0432, [5.8, 6.5, 7.2, 7.9, 8.6, 9.3, 10, 10.7, 11.4, 12.1, 12.8, 13.5]],
  [0.0414, [6, 6.7, 7.4, 8.1, 8.8, 9.5, 10.2, 10.9, 11.6, 12.3, 13, 13.7]],
  [0.0396, [7.8, 8.5, 9.2, 9.9, 10.6, 11.3, 12, 12.7, 13.4]],
  [0.0384, [7.75, 8.8, 9.6, 10.3, 11, 11.7, 12.4, 13.1, 13.8]],
  [0.0372, [10.5, 11.25, 12.2, 12.9, 13.6, 14.3, 15, 15.7, 16.4, 17.1]],
  [0.036, [8.75, 9.6, 12, 12.7, 13.4, 14.1, 14.8, 15.5, 16.2, 16.9, 17.5, 18.57, 20.35, 21.2, 22.24, 25.8, 26.7]],
  [0.0348, [11.9, 12.84, 13.5, 14.2, 14.9, 15.6, 16.3, 17, 17.7, 21.55, 25.5, 28.35]],
  [0.0336, [12, 13.67, 14.3, 15, 15.7, 16.4, 17.1, 17.8, 19.5, 20.4]],
  [0.0324, [14.6, 16.17, 16.9, 17.6, 18.8, 19.7]],
  [0.0312, [14.8, 17.45, 19.5, 21.55, 23.15]],
  [0.03, [17.6, 21.7]],
  // lower middle
  [0.0588, meanLowA], [0.0572, meanLowB], [0.0556, meanLowA], [0.054, meanLowB], [0.0524, meanLowA], [0.0508, meanLowB], [0.0492, meanLowA], [0.0476, meanLowB], [0.046, meanLowA], [0.0444, meanLowB], [0.0428, meanLowA], [0.0412, meanLowB], [0.0396, meanLowA],
  [0.0384, [14.35, 15.05, 15.75, 16.45, 17.15, 17.85, 18.55, 19.2, 20.04, 23.15]],
  [0.0372, [18.3, 23.7, 25.04]],
  [0.0588, meanMidB], [0.0572, meanMidA], [0.0556, meanMidB], [0.054, meanMidA],
  [0.0524, [20.3, 21, 21.7, 22.4, 23.1, 23.8, 24.5, 26, 26.7, 27.4, 28.1, 28.8, 29.5]],
  [0.0508, [20.65, 21.35, 22.05, 22.7, 24.1, 24.8, 25.5, 26.2, 26.9, 27.6, 28.6, 29.3]],
  [0.05, [22.3, 23.3, 25.3]],
  [0.0492, [20.3, 21, 21.7, 22.9, 23.6, 24.3, 25, 25.7, 26.4, 27.1, 28.7, 29.4]],
  [0.0476, meanMidB], [0.046, meanMidA],
  [0.0444, [20.65, 21.5, 22.9, 23.6, 24.6, 25.3, 26, 26.7, 27.4, 28.1, 28.8]],
  [0.0428, [20.3, 21.7, 22.4, 23.1, 23.8, 24.5, 25.2, 25.9, 26.6]],
  [0.0412, [20, 20.7, 21.4, 22.1, 22.8, 23.5, 24.2, 24.9, 25.6, 26.4]],
  [0.0396, [20.4, 21.9, 23, 24.6, 25.9, 27.25]],
  [0.0384, [26.7, 29.1]],
  // right-hand scatter, upper half
  [0.0984, [48.07]],
  [0.102, [41.8]],
  [0.096, [27.8, 28.8, 35.15, 37.3, 45.9, 46.9]],
  [0.0948, [28.25, 29.9, 31.85]],
  [0.0924, [28.85, 30, 31.7, 32.7, 33.3, 39.25, 42.2, 42.8, 45.5]],
  [0.09, [27.7, 30.25, 32.8, 33.45, 34.7, 40, 40.95, 42.3, 42.6, 44.5, 48.07]],
  [0.0888, [27.6, 28.3, 29, 30, 36.1, 38.6, 44.5, 45.75, 47.8]],
  [0.0876, [46.45, 47.7]],
  [0.0864, [34.1, 34.6, 36.9, 39.9, 42.8, 43.25, 44.5, 47.7, 49.25, 49.7]],
  [0.0852, [27.95, 28.85, 33.15, 35.2, 36.4]],
  [0.084, [34, 35.5, 36.6, 39.3, 41.2, 43.6, 45.4, 46.45, 47.7, 48.6, 49.2, 49.8]],
  [0.0828, [29.85, 31.2, 33.9, 35.1, 37.2, 39.8, 42.35, 43.6, 45.4, 45.9]],
  [0.0816, [32.2, 36.4, 37.95, 38.6, 39.85, 40.75, 48.6, 49.6]],
  [0.0804, [32.65, 33.4, 34.2, 34.9, 35.8, 41.6, 42.8, 46.3, 47, 48, 49]],
  [0.0792, [33, 33.9, 34.5, 35.9, 38.25, 39.8, 41.15, 44.2, 46, 48.4]],
  [0.078, [33.6, 34.2, 34.9, 35.6, 37.2, 37.95, 38.9, 39.8, 40.7, 42, 42.5, 43.8, 44.5, 46.1, 47]],
  [0.0768, [33.4, 34.9, 36, 37.95, 39.5, 40.8, 42.35, 43.6, 44.8, 45.8, 49.3]],
  [0.0756, [33, 33.6, 34.4, 35, 35.6, 36.4, 37, 39, 40.5, 43.1, 44.4, 47.35, 49.3]],
  [0.0744, [33.8, 34.6, 35.7, 37.4, 38.9, 43.1, 44, 44.6, 45.5, 46.6, 47.2, 47.9, 49.3]],
  [0.0732, [33, 34, 35.2, 37.95, 39.8, 41.9, 42.5, 43.4, 47.7, 48.4]],
  [0.072, [33.6, 34.4, 35.8, 36.7, 37.8, 39.2, 40, 43.6, 44.5, 45.7, 46.75, 49.5]],
  [0.0708, [33.2, 33.9, 34.8, 35.4, 37.2, 41.15, 41.75, 42.8, 43.4, 44.2, 45.1, 46.1, 47.8, 48.7]],
  [0.0696, [33.6, 34.2, 35.4, 37.2, 39.5, 43, 43.9, 44.8, 45.7, 47.7, 48.9, 49.8]],
  [0.0684, [33.4, 34.2, 35, 35.7, 36.4, 38.2, 40, 41.2, 42.3, 44, 46.2, 48.3, 49.9]],
  [0.0672, [33.2, 35.5, 37.2, 38.4, 39.9, 41.9, 42.95, 44.8, 47.4, 48.6]],
  [0.066, [32.6, 33.4, 34.6, 36.75, 40.2, 41.3, 43.9, 44.5, 49.8]],
  [0.0648, [32.7, 33.7, 34.6, 36.6, 37.95, 42.4, 43, 44.3, 49.3]],
  [0.0636, [32.3, 33.1, 35.5, 38.55, 39.8, 41.6, 46.75, 46.3]],
  [0.0624, [31.9, 32.8, 33.7, 35.1, 36.2, 37.5, 38.8, 39.8, 41.5, 44.25, 44.9, 45.45, 47.8]],
  [0.0612, [31.6, 32.4, 33.3, 34, 36.3, 38.8, 40.2, 41.3, 47, 48.5]],
  [0.06, [31.4, 32, 33, 33.8, 34.3, 38.45, 39.75, 43.2, 46.5]],
  [0.0588, [31, 31.6, 33.3, 34.3, 34.8, 40.5]],
  [0.0576, [31, 32.2, 33, 33.9, 35.1, 36.9, 44.5]],
  // right-hand scatter, lower half
  [0.0564, [30.8, 31.9, 32.35, 33.2, 34.1, 35, 36.6, 40, 41.5, 42.5, 47.8, 48.4]],
  [0.0552, [30.1, 31.3, 32.4, 34.75, 35.75, 36.7, 38.05, 45.4]],
  [0.054, [30.5, 31.9, 33, 33.8, 35, 36.3, 38.7, 41.1]],
  [0.0528, [30.2, 31.2, 32.65, 33.9, 34.6, 35.1, 36.3, 43.65]],
  [0.0516, [30.4, 31.6, 32.75, 33.7, 34.5, 37.5, 38.1, 46]],
  [0.0504, [31.4, 32.5, 33.7, 34.2, 37.5, 38.1, 39.8, 43.95, 44.7]],
  [0.0492, [30.2, 31, 32.5, 33, 33.6, 34.6, 36.3, 37, 37.95, 38.8, 48.3]],
  [0.048, [30.7, 31.4, 32, 33.1, 33.8, 34.5, 36.1, 38.25, 42.1, 44.8]],
  [0.0468, [30.4, 31.3, 32.2, 32.8, 33.4, 34.4, 35.8, 37.65, 39.25]],
  [0.0456, [30.2, 31, 32, 33, 33.4, 34.5, 37, 37.95, 41.15, 45]],
  [0.0444, [29.9, 31, 32.35, 33.55, 34.3, 35.2, 36.1, 37.65, 38.55, 40, 42.3, 42.95]],
  [0.0432, [29.3, 30, 33.4, 34.85, 36.1, 37, 39, 40.2, 43.2, 44.25, 45.15, 47.5, 47.75]],
  [0.042, [29.8, 30.5, 31.7, 32.35, 34.3, 36.3, 38.25, 39.4, 40.15, 42.1, 44.2]],
  [0.0408, [27.8, 29.2, 33.25, 34.6, 35, 37, 41.7, 42.5, 43.5, 46.1, 48.85]],
  [0.0396, [31.6, 32.2, 33.4, 37, 38.2, 40.5, 43.9, 45.1, 49.5]],
  [0.0384, [33.6, 37.8, 40.5, 45.5]],
  [0.0372, [34.9, 36.9, 44, 45.4]],
  [0.036, [32.4, 32.8, 33.3, 34.6, 35.45, 37.3, 38.9, 42.15]],
  [0.0348, [28.4, 40.9]],
  [0.0336, [33.4, 36.3, 36.74, 42.5]],
  [0.0324, [39.3]],
  [0.0312, [31.4, 34.36, 35.25, 36.7]],
  [0.03, [39.6]],
  [0.0288, [35.4]],
  [0.0276, [33.56, 36.4]],
  [0.0252, [38.2, 40.8]],
];

const rowsToPoints = (rows: Row[]) => rows.flatMap(([y, xs]) => xs.map((x) => ({ x, y })));
const pairsToPoints = (pairs: number[][]) => pairs.map(([x, y]) => ({ x, y }));

const stdPoints = [...rowsToPoints(stdRows), ...pairsToPoints(stdScatter)];
const rangePoints = rowsToPoints(rangeRows);
const medianPoints = rowsToPoints(medianRows);
const meanPoints = rowsToPoints(meanRows);

const rangeThreshold = 0.036;
const medianThreshold = 0.0611;
const meanThreshold = 0.058;

const FONT = '"Liberation Sans", Arial, sans-serif';
const CELL_W = 1563;
const CELL_H = 1344;

interface PanelSpec {
  id: string;
  cx: number; cy: number;
  left: number; right: number; top: number; bottom: number;
  titleX: number;
  yLabel: string;
  points: { x: number; y: number }[];
  yMin: number; yMax: number;
  yTicks: number[];
  threshold?: number;
  thresholdEnd?: number;
}

const panels: PanelSpec[] = [
  { id: "std", cx: 0, cy: 0, left: 243.5, right: 1460.5, top: 57.5, bottom: 986.7, titleX: 124, yLabel: "Standard deviation of training subset", points: stdPoints, yMin: 0, yMax: 12, yTicks: stdTicks },
  { id: "range", cx: 1563, cy: 0, left: 271, right: 1490, top: 36, bottom: 966, titleX: 108, yLabel: "Range of training subset", points: rangePoints, yMin: 0, yMax: 0.07, yTicks: rangeTicks, threshold: rangeThreshold, thresholdEnd: 49.8 },
  { id: "median", cx: 0, cy: 1344, left: 243.5, right: 1460.5, top: 121.2, bottom: 1050.3, titleX: 80, yLabel: "Median of training subset", points: medianPoints, yMin: 0.02, yMax: 0.12, yTicks: centerTicks, threshold: medianThreshold, thresholdEnd: 49.7 },
  { id: "mean", cx: 1563, cy: 1344, left: 271, right: 1490, top: 121.2, bottom: 1050.3, titleX: 110, yLabel: "Mean of training subset", points: meanPoints, yMin: 0.02, yMax: 0.12, yTicks: centerTicks, threshold: meanThreshold, thresholdEnd: 49.8 },
];

const captions = [
  { text: "Standard deviation", x: 823, baseline: 1251 },
  { text: "Range", x: 2416, baseline: 1227 },
  { text: "Median", x: 823, baseline: 2654 },
  { text: "Mean", x: 2416, baseline: 2654 },
];

const inwardTicks = {
  id: "inwardTicks",
  beforeDatasetsDraw(chart: any) {
    const { ctx, chartArea, scales } = chart;
    ctx.save();
    ctx.strokeStyle = "#262626";
    ctx.lineWidth = 2;
    ctx.beginPath();
    for (const t of scales.x.ticks) {
      const px = scales.x.getPixelForValue(t.value);
      ctx.moveTo(px, chartArea.bottom);
      ctx.lineTo(px, chartArea.bottom - 12);
    }
    for (const t of scales.y.ticks) {
      const py = scales.y.getPixelForValue(t.value);
      ctx.moveTo(chartArea.left, py);
      ctx.lineTo(chartArea.left + 12, py);
    }
    ctx.stroke();
    ctx.restore();
  },
};

function Panel({ spec }: { spec: PanelSpec }) {
  const ref = useRef<HTMLCanvasElement>(null);
  useEffect(() => {
    const TITLE = 57.5;
    const LH = 1.2 * TITLE;
    const titleOffset = 132;
    const xHeight = titleOffset + LH / 2;
    const padLeft = spec.titleX - LH / 2;
    const clearPadding = (s: any) => {
      s.paddingTop = 0;
      s.paddingBottom = 0;
      s.paddingLeft = 0;
      s.paddingRight = 0;
    };
    const datasets: any[] = [
      {
        type: "scatter",
        data: spec.points,
        pointRadius: 10.7,
        pointHoverRadius: 10.7,
        pointBorderWidth: 0,
        backgroundColor: "#000",
        clip: false,
        order: 2,
      },
    ];
    if (spec.threshold !== undefined) {
      datasets.push({
        type: "line",
        data: [
          { x: 0, y: spec.threshold },
          { x: spec.thresholdEnd, y: spec.threshold },
        ],
        borderColor: "rgba(255,0,0,0.7)",
        borderWidth: 7,
        borderDash: [28, 28],
        pointRadius: 0,
        fill: false,
        clip: false,
        order: 1,
      });
    }
    const chart = new Chart(ref.current as HTMLCanvasElement, {
      type: "scatter",
      data: { datasets },
      plugins: [inwardTicks],
      options: {
        animation: false,
        responsive: false,
        devicePixelRatio: 1,
        layout: {
          autoPadding: false,
          padding: {
            left: padLeft,
            top: spec.top,
            right: CELL_W - spec.right,
            bottom: CELL_H - spec.bottom - xHeight,
          },
        },
        plugins: { legend: { display: false }, tooltip: { enabled: false } },
        scales: {
          x: {
            type: "linear",
            min: 0,
            max: 50,
            afterBuildTicks: (s: any) => {
              s.ticks = rmseTicks.map((value) => ({ value }));
            },
            afterFit: (s: any) => {
              s.height = xHeight;
              clearPadding(s);
            },
            grid: { color: "#e4e4e4", lineWidth: 2, drawTicks: false },
            border: { display: true, color: "#404040", width: 2 },
            ticks: { color: "#262626", font: { family: FONT, size: 52 }, padding: 28, maxRotation: 0, autoSkip: false },
            title: { display: true, text: "RMSE (%)", color: "#262626", font: { family: FONT, size: TITLE, lineHeight: 1.2 }, padding: 0 },
          },
          y: {
            type: "linear",
            min: spec.yMin,
            max: spec.yMax,
            afterBuildTicks: (s: any) => {
              s.ticks = spec.yTicks.map((value) => ({ value }));
            },
            afterFit: (s: any) => {
              s.width = spec.left - padLeft;
              clearPadding(s);
            },
            grid: { color: "#e4e4e4", lineWidth: 2, drawTicks: false },
            border: { display: true, color: "#404040", width: 2 },
            ticks: { color: "#262626", font: { family: FONT, size: 52 }, padding: 18, labelOffset: 5, autoSkip: false, callback: (v: any) => String(v) },
            title: { display: true, text: spec.yLabel, color: "#262626", font: { family: FONT, size: TITLE, lineHeight: 1.2 }, padding: 0 },
          },
        },
      } as any,
    } as any);
    return () => chart.destroy();
  }, [spec]);
  return (
    <canvas
      ref={ref}
      width={CELL_W}
      height={CELL_H}
      style={{ position: "absolute", left: spec.cx, top: spec.cy, width: CELL_W, height: CELL_H, display: "block" }}
    />
  );
}

export default function App() {
  return (
    <div style={{ position: "absolute", left: 0, top: 0, width: 3126, height: 2688, background: "#fff", overflow: "hidden" }}>
      {panels.map((p) => (
        <Panel key={p.id} spec={p} />
      ))}
      {captions.map((c) => (
        <div
          key={c.text}
          style={{
            position: "absolute",
            left: c.x,
            top: c.baseline - 78,
            transform: "translateX(-50%)",
            font: '88px "Liberation Serif", serif',
            lineHeight: "100px",
            letterSpacing: 2.4,
            color: "#000",
            whiteSpace: "nowrap",
          }}
        >
          {c.text}
        </div>
      ))}
    </div>
  );
}
